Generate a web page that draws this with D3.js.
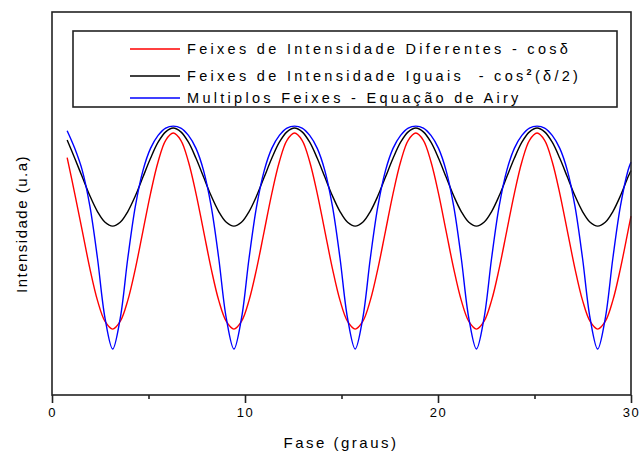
<!DOCTYPE html>
<html>
<head>
<meta charset="utf-8">
<script src="https://cdn.jsdelivr.net/npm/d3@7/dist/d3.min.js"></script>
<style>
  html, body { margin: 0; padding: 0; background: #fff; }
  svg { display: block; }
  text { font-family: "Liberation Sans", Arial, sans-serif; fill: #000; }
</style>
</head>
<body>
<svg id="chart" width="640" height="455"></svg>
<script>
// ---- data ----
const fase = [0.785, 1.178, 1.571, 1.963, 2.356, 2.749, 3.142, 3.534, 3.927, 4.320, 4.712, 5.105, 5.498, 5.890,
  6.283, 6.676, 7.069, 7.461, 7.854, 8.247, 8.639, 9.032, 9.425, 9.817, 10.210, 10.603, 10.996, 11.388, 11.781, 12.174,
  12.566, 12.959, 13.352, 13.744, 14.137, 14.530, 14.923, 15.315, 15.708, 16.101, 16.493, 16.886, 17.279, 17.671, 18.064, 18.457,
  18.850, 19.242, 19.635, 20.028, 20.420, 20.813, 21.206, 21.598, 21.991, 22.384, 22.777, 23.169, 23.562, 23.955, 24.347, 24.740,
  25.133, 25.525, 25.918, 26.311, 26.704, 27.096, 27.489, 27.882, 28.274, 28.667, 29.060, 29.452, 29.845, 30.000];

const diferentes = [0.620, 0.526, 0.428, 0.330, 0.247, 0.192, 0.172, 0.192, 0.247, 0.330, 0.428, 0.526, 0.609, 0.665,
  0.684, 0.665, 0.609, 0.526, 0.428, 0.330, 0.247, 0.192, 0.172, 0.192, 0.247, 0.330, 0.428, 0.526, 0.609, 0.665,
  0.684, 0.665, 0.609, 0.526, 0.428, 0.330, 0.247, 0.192, 0.172, 0.192, 0.247, 0.330, 0.428, 0.526, 0.609, 0.665,
  0.684, 0.665, 0.609, 0.526, 0.428, 0.330, 0.247, 0.192, 0.172, 0.192, 0.247, 0.330, 0.428, 0.526, 0.609, 0.665,
  0.684, 0.665, 0.609, 0.526, 0.428, 0.330, 0.247, 0.192, 0.172, 0.192, 0.247, 0.330, 0.428, 0.467];

const iguais = [0.666, 0.618, 0.569, 0.520, 0.479, 0.451, 0.441, 0.451, 0.479, 0.520, 0.569, 0.618, 0.660, 0.687,
  0.697, 0.687, 0.660, 0.618, 0.569, 0.520, 0.479, 0.451, 0.441, 0.451, 0.479, 0.520, 0.569, 0.618, 0.660, 0.687,
  0.697, 0.687, 0.660, 0.618, 0.569, 0.520, 0.479, 0.451, 0.441, 0.451, 0.479, 0.520, 0.569, 0.618, 0.660, 0.687,
  0.697, 0.687, 0.660, 0.618, 0.569, 0.520, 0.479, 0.451, 0.441, 0.451, 0.479, 0.520, 0.569, 0.618, 0.660, 0.687,
  0.697, 0.687, 0.660, 0.618, 0.569, 0.520, 0.479, 0.451, 0.441, 0.451, 0.479, 0.520, 0.569, 0.586];

const airy = [0.690, 0.644, 0.586, 0.493, 0.357, 0.200, 0.120, 0.200, 0.357, 0.493, 0.586, 0.644, 0.678, 0.697,
  0.702, 0.697, 0.678, 0.644, 0.586, 0.493, 0.357, 0.200, 0.120, 0.200, 0.357, 0.493, 0.586, 0.644, 0.678, 0.697,
  0.702, 0.697, 0.678, 0.644, 0.586, 0.493, 0.357, 0.200, 0.120, 0.200, 0.357, 0.493, 0.586, 0.644, 0.678, 0.697,
  0.702, 0.697, 0.678, 0.644, 0.586, 0.493, 0.357, 0.200, 0.120, 0.200, 0.357, 0.493, 0.586, 0.644, 0.678, 0.697,
  0.702, 0.697, 0.678, 0.644, 0.586, 0.493, 0.357, 0.200, 0.120, 0.200, 0.357, 0.493, 0.586, 0.608];

const majorTicks = [0, 10, 20, 30];
const minorTicks = [5, 15, 25];

const seriesNames = ["Feixes de Intensidade Diferentes - cos\u03b4",
                     "Feixes de Intensidade Iguais  - cos",
                     "Multiplos Feixes - Equa\u00e7\u00e3o de Airy"];
const seriesColors = ["#ff0000", "#000000", "#0000ff"];
const xTitle = "Fase (graus)";
const yTitle = "Intensidade (u.a)";

// ---- layout ----
const plotL = 52, plotR = 631, plotT = 12, plotB = 395;
const svg = d3.select("#chart");

const x = d3.scaleLinear().domain([0, 30]).range([plotL, plotR]);
const y = d3.scaleLinear().domain([0, 1]).range([plotB, plotT]);

const series = [diferentes, iguais, airy];

const line = d3.line()
  .x(d => x(d[0]))
  .y(d => y(d[1]))
  .curve(d3.curveCatmullRom.alpha(0.5));

series.forEach((vals, i) => {
  svg.append("path")
    .datum(fase.map((f, j) => [f, vals[j]]))
    .attr("fill", "none")
    .attr("stroke", seriesColors[i])
    .attr("stroke-width", 1.4)
    .attr("d", line);
});

// frame
svg.append("rect")
  .attr("x", plotL).attr("y", plotT)
  .attr("width", plotR - plotL).attr("height", plotB - plotT)
  .attr("fill", "none").attr("stroke", "#222").attr("stroke-width", 1.6);

// x axis
const ax = svg.append("g").attr("transform", `translate(0,${plotB})`)
  .call(d3.axisBottom(x).tickValues(majorTicks).tickSize(8).tickSizeOuter(0).tickFormat(d3.format("d")));
ax.select(".domain").remove();
ax.selectAll(".tick line").attr("stroke", "#222").attr("stroke-width", 1.6);
ax.selectAll(".tick text")
  .attr("y", 13)
  .style("font-family", "'Liberation Sans', Arial, sans-serif")
  .style("font-size", "13px")
  .style("letter-spacing", "1.5px")
  .attr("fill", "#000");

const axm = svg.append("g").attr("transform", `translate(0,${plotB})`)
  .call(d3.axisBottom(x).tickValues(minorTicks).tickSize(4).tickSizeOuter(0).tickFormat(""));
axm.select(".domain").remove();
axm.selectAll(".tick line").attr("stroke", "#222").attr("stroke-width", 1.6);

// titles
svg.append("text")
  .attr("x", 341).attr("y", 448)
  .attr("text-anchor", "middle")
  .style("font-size", "15px")
  .style("letter-spacing", "2.5px")
  .text(xTitle);

svg.append("text")
  .attr("transform", "translate(27,224) rotate(-90)")
  .attr("text-anchor", "middle")
  .style("font-size", "15px")
  .style("letter-spacing", "1.5px")
  .text(yTitle);

// legend
svg.append("rect")
  .attr("x", 73).attr("y", 31).attr("width", 544).attr("height", 76)
  .attr("fill", "#fff").attr("stroke", "#222").attr("stroke-width", 1.6);

const rowY = [49, 76, 98];
seriesNames.forEach((name, i) => {
  svg.append("line")
    .attr("x1", 130).attr("x2", 180)
    .attr("y1", rowY[i]).attr("y2", rowY[i])
    .attr("stroke", seriesColors[i]).attr("stroke-width", 1.4);
  const t = svg.append("text")
    .attr("x", 187).attr("y", rowY[i] + 5)
    .style("font-size", "14.5px")
    .style("letter-spacing", "3.3px")
    .style("white-space", "pre")
    .text(name);
  if (i === 1) {
    t.append("tspan").attr("dy", -6).style("font-size", "9px").style("font-weight", "bold").text("2");
    t.append("tspan").attr("dy", 6).style("font-size", "14.5px").text("(\u03b4/2)");
  }
});
</script>
</body>
</html>
